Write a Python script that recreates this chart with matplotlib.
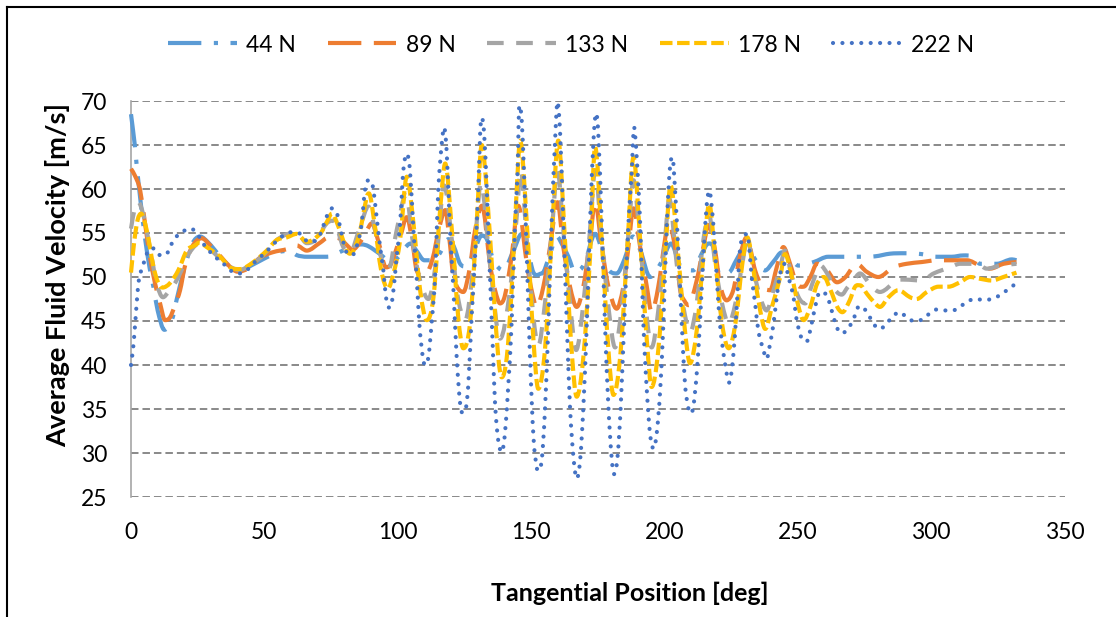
import numpy as np
import matplotlib
matplotlib.use("Agg")
import matplotlib.pyplot as plt
from matplotlib.path import Path
from matplotlib.patches import PathPatch
from matplotlib.lines import Line2D

plt.rcParams['font.family'] = ['Lato', 'DejaVu Sans']

# ---------------- data ----------------
series_names = ["44 N", "89 N", "133 N", "178 N", "222 N"]

x_44 = [0, 1.5, 2.0, 3.4, 5, 7, 8.4, 10, 12.5, 15.3, 17.1, 20.2, 23, 25.9, 29, 33, 37, 40.5,
        45, 50, 55, 60, 62, 66, 70, 73.4, 78, 83, 86.5, 89, 93.4, 97, 100, 104.8, 107, 110,
        113.5, 116, 119, 121, 123.4, 126, 128.5, 131.5, 133.4, 135.9, 139.6, 143.4, 146.5,
        148.5, 150.9, 154, 157, 159.6, 162, 164, 166.5, 170, 174, 178.4, 182.1, 185, 188.2,
        191, 194.6, 198.9, 202.5, 205.9, 210.8, 213.9, 216.5, 218.3, 220.3, 224, 227.1,
        230.5, 234, 237.7, 241, 244, 247, 250.2, 256, 261.4, 266, 273.3, 279, 284.6, 290,
        296.5, 302.1, 307.7, 312, 315.8, 318.3, 324.6, 330.3, 332]
y_44 = [68.5, 64.8, 63.1, 59.1, 55.0, 51.0, 48.9, 46.2, 44.0, 45.1, 47.4, 51.2, 53.8, 54.6,
        53.9, 52.5, 51.2, 50.7, 51.3, 52.1, 52.8, 53.0, 52.5, 52.3, 52.3, 52.3, 52.8, 53.5,
        53.7, 53.5, 52.6, 51.8, 52.2, 53.8, 53.0, 51.9, 51.9, 52.8, 54.3, 53.5, 51.5, 51.2,
        52.8, 54.7, 54.3, 51.9, 50.75, 53.0, 54.9, 53.5, 50.5, 50.4, 52.5, 54.6, 53.5, 52.3,
        50.55, 51.5, 54.9, 51.1, 50.4, 52.0, 54.6, 53.0, 50.0, 51.7, 53.8, 51.3, 50.75, 52.6,
        53.8, 53.4, 50.55, 50.5, 52.0, 53.6, 52.0, 50.75, 51.8, 52.8, 52.3, 51.3, 51.7, 52.3,
        52.3, 52.3, 52.35, 52.65, 52.7, 52.6, 52.3, 52.3, 52.45, 52.3, 51.5, 51.5, 52.0, 51.9]

x_89 = [0, 1.5, 3.4, 5.25, 7, 9, 10.9, 12.75, 14.6, 16.5, 18.4, 20.2, 23, 26.5, 30, 34, 37, 40,
        44, 48.4, 53, 58.9, 62, 65.9, 70.9, 74, 78.4, 81, 83, 86, 88.4, 90.3, 92.8, 95.6, 97.5,
        100.9, 103.4, 105.5, 107.1, 110.2, 113, 115.5, 117.8, 119.5, 120.9, 124.6, 127, 129,
        131.6, 134.6, 136.5, 138.4, 140.2, 142.7, 145.2, 148.4, 150.2, 152.1, 154.6, 157.1,
        159.9, 162.1, 164.6, 167.1, 169.6, 172.1, 174, 176.5, 179, 182.1, 184.6, 186.5, 188.4,
        190.9, 193.4, 195.2, 197.7, 200.2, 201.5, 204.6, 205.9, 207.5, 209, 212.1, 214.6, 216.5,
        219, 220.8, 223.3, 225.8, 228.3, 230.8, 234, 236.5, 239.6, 242.1, 244.6, 247.1, 249.6,
        252.2, 254.7, 257.2, 261, 264.7, 267.9, 272.1, 275.8, 280.2, 285.8, 290.8, 296.5,
        302.1, 313.4, 318.3, 322.1, 327.1, 332]
y_89 = [62.3, 61.5, 59.9, 56.1, 52.5, 49.3, 47.0, 45.1, 45.4, 46.8, 48.5, 51.2, 53.5, 54.4,
        53.5, 52.2, 51.2, 50.6, 51.0, 52.2, 52.8, 53.2, 53.6, 53.0, 53.9, 54.5, 54.35, 53.6,
        53.1, 54.0, 55.3, 56.1, 54.0, 51.1, 51.5, 54.5, 56.8, 54.0, 50.75, 50.2, 52.0, 55.5,
        57.6, 54.0, 50.0, 48.3, 51.0, 55.3, 58.1, 51.5, 48.5, 47.0, 47.9, 52.3, 58.1, 51.5,
        48.5, 46.6, 48.9, 53.4, 58.5, 53.4, 48.9, 46.6, 48.9, 54.2, 58.5, 53.4, 48.9, 46.4,
        48.9, 53.4, 57.8, 53.4, 48.9, 46.0, 48.9, 54.2, 56.25, 52.3, 48.5, 47.3, 46.8, 49.6,
        53.4, 55.9, 53.0, 49.2, 47.35, 48.5, 52.3, 54.5, 50.75, 49.0, 48.5, 51.1, 53.4, 51.5,
        49.2, 48.9, 50.0, 51.5, 50.75, 49.4, 50.0, 51.5, 50.6, 50.0, 51.1, 51.5, 51.7, 51.9,
        51.9, 51.3, 50.95, 51.5, 51.7]

x_133 = [0, 1.2, 2.75, 4.5, 7, 9.6, 12, 14, 16.5, 19, 22, 25.9, 29, 33, 37, 40.5, 45, 50, 54.6,
         60.8, 63, 65.9, 69, 73.4, 75.8, 79.6, 82.1, 85.9, 89, 92.1, 94.8, 96.5, 99.6, 103.1,
         105.9, 108.4, 111.5, 114.6, 117.4, 120.3, 122.1, 125.3, 128.3, 131.2, 134.6, 138.4,
         142.1, 144.6, 146.1, 148.4, 150.9, 152.7, 155.2, 157.7, 159.9, 162.1, 164.6, 166.9,
         169.6, 172.1, 174, 176.5, 179, 181.5, 184, 186.5, 188.4, 190.9, 193.4, 195.2, 197.7,
         200.2, 201.8, 204.6, 207.1, 209.6, 212.1, 214.6, 216.8, 219, 221.6, 224.1, 226.6,
         229.2, 231.1, 233.4, 235.9, 238.3, 240.9, 243.4, 245.2, 247.8, 250.3, 252.8, 255.4,
         258.5, 261, 264.1, 266.5, 268.6, 270.8, 273.3, 277.7, 280.8, 287.1, 290.2, 296.5,
         300.9, 307.1, 310.8, 317.1, 320.9, 325.9, 332]
y_133 = [55.5, 57.5, 58.5, 57.2, 53.5, 49.3, 47.7, 48.3, 49.3, 50.8, 52.8, 53.85, 53.3, 52.2,
         51.2, 50.8, 51.4, 52.6, 54.2, 55.0, 54.8, 53.85, 54.2, 56.1, 56.4, 53.4, 52.8, 55.7,
         58.0, 54.5, 51.0, 50.8, 55.3, 59.3, 53.4, 49.6, 47.5, 52.3, 60.4, 54.2, 48.5, 45.1,
         51.1, 60.6, 51.5, 43.0, 48.5, 56.8, 62.1, 54.2, 45.4, 42.2, 47.0, 54.9, 62.1, 55.3,
         47.0, 41.7, 47.0, 55.3, 62.1, 54.2, 46.6, 42.0, 46.6, 54.9, 61.0, 53.8, 45.4, 42.0,
         46.2, 54.2, 58.9, 51.5, 46.6, 43.75, 47.0, 54.2, 57.0, 51.5, 47.0, 44.7, 47.0, 51.5,
         54.35, 50.75, 47.7, 46.2, 48.5, 51.1, 53.0, 50.0, 47.7, 47.0, 49.2, 51.3, 50.4, 48.5,
         48.0, 48.8, 49.6, 50.4, 48.9, 48.3, 49.6, 49.7, 49.6, 50.4, 51.1, 51.5, 51.5, 50.95,
         51.3, 51.5]

x_178 = [0, 1.2, 2.5, 3.8, 5.9, 8.4, 10, 11.8, 14.6, 17.8, 20.9, 24, 25.5, 28.4, 33.4, 37.1,
         40.9, 45.9, 50.9, 54.6, 58.4, 62.1, 65.9, 70.9, 73.5, 75.3, 77.8, 80.9, 82.1, 85.3,
         88.4, 89.2, 91.3, 93.8, 96.3, 98.5, 100.9, 103.4, 105.9, 108.4, 110.9, 113.4, 116,
         117.8, 120.3, 122.7, 124.6, 127.1, 129.6, 131.5, 133.4, 135.9, 137.7, 139, 140.9,
         142.7, 144.6, 145.9, 148.4, 150.9, 152.7, 155.2, 157.7, 160.2, 162.7, 165.2, 167.1,
         169.6, 172.1, 174, 176.5, 179, 180.9, 183.4, 185.9, 188.4, 190.9, 193.4, 195.2, 197.7,
         200.2, 202.3, 205.2, 207.7, 209.6, 212.1, 214.6, 216.8, 219, 221.6, 224.1, 226.6,
         229.2, 231.1, 233.4, 235.9, 237.8, 240.3, 243.4, 245.2, 247.8, 250.3, 252.2, 254.7,
         257.2, 259.8, 262.3, 264.8, 266.7, 269.4, 271.5, 273.4, 275.9, 278.4, 280.8, 284,
         287.7, 292.1, 294.6, 298.4, 302.8, 306.5, 310.8, 314.6, 318.3, 322.7, 327.1, 332]
y_178 = [50.5, 54.0, 56.5, 57.2, 55.3, 51.2, 49.5, 48.8, 49.3, 50.8, 53.0, 53.6, 53.9, 53.4,
         52.3, 51.1, 50.9, 51.7, 53.0, 54.2, 54.5, 54.9, 54.0, 54.9, 56.3, 57.2, 55.7, 53.0,
         52.65, 54.5, 59.1, 59.5, 56.1, 50.75, 48.7, 50.5, 54.2, 61.4, 56.1, 48.5, 45.1, 47.7,
         58.0, 62.9, 55.3, 45.4, 41.9, 44.7, 56.1, 65.0, 59.8, 48.5, 40.9, 38.6, 40.9, 48.5,
         59.8, 65.5, 56.1, 42.8, 37.3, 41.7, 54.2, 65.5, 54.2, 41.7, 36.4, 40.9, 52.3, 64.8,
         54.2, 41.7, 36.6, 40.9, 52.3, 63.6, 54.2, 42.8, 37.5, 41.7, 52.3, 60.4, 52.3, 43.9,
         40.2, 43.9, 52.3, 58.3, 52.3, 44.7, 41.9, 44.7, 51.5, 54.5, 50.75, 46.2, 44.1, 46.6,
         50.0, 52.6, 50.0, 46.6, 45.1, 46.6, 49.2, 50.0, 48.5, 46.6, 46.0, 47.3, 48.9, 49.05,
         48.1, 47.2, 46.6, 47.7, 48.5, 47.7, 47.5, 48.3, 48.9, 48.9, 49.4, 50.0, 49.8, 49.6,
         50.0, 50.5]

x_222 = [0, 1.0, 2.0, 3.0, 4.2, 6.0, 8.0, 10.5, 12.8, 16, 18.5, 22.5, 25.5, 28, 30.2, 33, 35.5,
         38, 40.5, 43.5, 46, 50.5, 53, 55, 57.5, 60.5, 63.5, 66.5, 69, 71, 73.4, 75.3, 77.1,
         78.4, 79.6, 81, 83, 85.3, 86.5, 87.7, 89, 90.6, 92.1, 93.4, 94.6, 95.6, 96.9, 98.1,
         99.6, 100.9, 102.1, 103.4, 104.6, 105.9, 107.1, 108.1, 109.4, 110.2, 111.5, 112.7,
         114, 115.2, 116.5, 117.4, 118.4, 119.6, 120.9, 122.1, 123.4, 124.2, 125.5, 126.5,
         127.7, 129, 130.2, 130.9, 131.5, 132.4, 133.4, 134.6, 135.6, 136.5, 137.7, 139, 140.2,
         141.5, 142.7, 144, 144.9, 145.6, 146.5, 147.4, 148.4, 149.6, 150.9, 152.1, 152.7, 154,
         155.2, 156.5, 157.7, 159, 159.9, 160.9, 162.1, 163.4, 164.6, 165.9, 167.1, 168.4,
         169.6, 170.9, 172.1, 173.4, 174.4, 175.2, 176.5, 177.7, 179, 180.2, 181.1, 182.4,
         183.6, 184.9, 186.5, 187.7, 188.6, 189.6, 190.9, 192.1, 193.4, 194.6, 195.9, 197.1,
         198.4, 199.6, 200.9, 202.1, 203, 204, 205.2, 206.5, 207.7, 208.9, 209.8, 210.8, 212.1,
         213.3, 214.6, 215.8, 216.8, 218.3, 219.6, 220.8, 222.7, 224.3, 225.8, 227.1, 228.3,
         229.6, 231.1, 232.7, 234, 235.2, 237.1, 238.3, 239.6, 240.9, 242.1, 243.4, 245.2,
         246.5, 248.4, 249.6, 251.5, 253.4, 255.2, 256.5, 258.3, 260.9, 262.7, 264.6, 266.5,
         269, 271, 273, 275.2, 276.9, 278.3, 280.8, 283.3, 285.5, 288.1, 290.6, 293.4, 296.5,
         299, 301.8, 304.8, 308.1, 310.8, 313.4, 316.5, 319.6, 322.7, 325.6, 328.4, 331.1]
y_222 = [40.0, 42.5, 46.5, 49.8, 51.0, 52.7, 53.3, 52.5, 52.5, 54.2, 55.0, 55.5, 54.6, 53.4,
         52.7, 51.9, 51.3, 50.6, 50.4, 50.8, 51.6, 52.8, 53.6, 54.2, 54.8, 55.1, 54.9, 54.0,
         54.1, 54.9, 56.9, 57.8, 57.3, 55.7, 54.0, 52.7, 52.5, 54.2, 56.1, 59.8, 61.0, 60.4,
         56.8, 53.4, 50.8, 47.7, 46.5, 47.7, 52.3, 56.1, 62.1, 64.0, 62.1, 55.3, 50.0, 44.7,
         40.9, 40.0, 40.9, 44.7, 50.0, 59.8, 65.1, 67.0, 64.0, 55.3, 48.5, 40.9, 35.6, 34.6,
         35.0, 37.9, 45.4, 52.3, 59.8, 66.3, 68.1, 66.3, 59.8, 50.0, 42.4, 35.6, 31.4, 30.1,
         32.2, 37.9, 44.7, 56.1, 61.7, 69.5, 67.8, 61.4, 52.3, 40.9, 31.8, 28.4, 28.0, 29.2,
         34.8, 44.7, 56.1, 65.5, 69.9, 66.3, 56.1, 44.7, 35.2, 29.5, 27.1, 29.2, 35.2, 44.7,
         56.1, 65.5, 68.6, 66.3, 56.1, 44.7, 35.2, 29.5, 27.6, 29.5, 35.2, 44.7, 56.1, 61.7,
         67.0, 63.6, 56.1, 44.7, 37.1, 32.2, 30.5, 32.2, 37.1, 44.7, 56.1, 62.5, 63.6, 59.8,
         53.0, 44.7, 37.9, 35.2, 34.5, 35.2, 39.0, 44.7, 52.3, 58.0, 59.8, 56.1, 50.0, 44.7,
         40.2, 38.0, 41.0, 46.6, 53.0, 54.5, 54.9, 50.0, 47.0, 43.9, 41.7, 40.7, 42.4, 44.7,
         47.7, 50.4, 51.5, 50.0, 47.7, 45.1, 43.0, 42.7, 44.7, 46.6, 48.3, 47.9, 46.2, 44.3,
         43.6, 44.2, 45.3, 46.7, 46.3, 45.5, 44.7, 44.1, 44.7, 45.5, 46.0, 45.5, 45.0, 45.15,
         45.75, 46.3, 46.2, 46.2, 46.6, 47.2, 47.5, 47.4, 47.5, 47.9, 48.5, 49.1]

x_ticks = [0, 50, 100, 150, 200, 250, 300, 350]
y_ticks = [25, 30, 35, 40, 45, 50, 55, 60, 65, 70]

colors = ["#5B9BD5", "#ED7D31", "#A5A5A5", "#FFC000", "#4472C4"]
# dash patterns in units of line width (long dash-dot, long dash, dash, square dash, round dot)
dash_styles = [(0, (8, 3, 1, 3)), (0, (8, 3)), (0, (4, 3)), (0, (3, 1.1)), (0, (0.01, 2.25))]
cap_styles = ["butt", "butt", "butt", "butt", "round"]
LW = 3.0


def smooth_path(x, y):
    """Smoothed line through the points as cubic Bezier segments."""
    x = np.asarray(x, float)
    y = np.asarray(y, float)
    n = len(x)
    d = np.diff(y) / np.diff(x)
    m = np.zeros(n)
    m[0], m[-1] = d[0], d[-1]
    for i in range(1, n - 1):
        if d[i - 1] * d[i] > 0:
            m[i] = (y[i + 1] - y[i - 1]) / (x[i + 1] - x[i - 1])
    verts = [(x[0], y[0])]
    codes = [Path.MOVETO]
    for i in range(n - 1):
        h = x[i + 1] - x[i]
        verts += [(x[i] + h / 3, y[i] + m[i] * h / 3),
                  (x[i + 1] - h / 3, y[i + 1] - m[i + 1] * h / 3),
                  (x[i + 1], y[i + 1])]
        codes += [Path.CURVE4] * 3
    return Path(verts, codes)


W, H = 1116, 617
fig = plt.figure(figsize=(W / 100, H / 100), dpi=100)
ax = fig.add_axes([131 / W, 1 - 497 / H, (1064.5 - 131) / W, (497 - 101) / H])

ax.set_xlim(0, 350)
ax.set_ylim(25, 70)
ax.set_xticks(x_ticks)
ax.set_yticks(y_ticks)
ax.tick_params(axis='both', length=0, labelsize=16.5, colors='black')
ax.tick_params(axis='y', pad=17)
ax.tick_params(axis='x', pad=18)

ax.yaxis.grid(True, color='#808080', linewidth=1.3, linestyle=(0, (4.15, 2.2)))
ax.xaxis.grid(False)
ax.set_axisbelow(True)
for side in ['top', 'right', 'bottom']:
    ax.spines[side].set_visible(False)
ax.spines['left'].set_color('#A6A6A6')
ax.spines['left'].set_linewidth(1.2)
ax.spines['left'].set_zorder(1)

all_x = [x_44, x_89, x_133, x_178, x_222]
all_y = [y_44, y_89, y_133, y_178, y_222]
handles = []
for k, (xs, ys) in enumerate(zip(all_x, all_y)):
    patch = PathPatch(smooth_path(xs, ys), fill=False, edgecolor=colors[k], linewidth=LW,
                      linestyle=dash_styles[k], capstyle=cap_styles[k], joinstyle='round',
                      zorder=3 + k, clip_on=False)
    ax.add_patch(patch)
    handles.append(Line2D([], [], color=colors[k], linewidth=LW, linestyle=dash_styles[k],
                          dash_capstyle=cap_styles[k]))

fig.legend(handles, series_names, loc='center', bbox_to_anchor=(571 / W, 1 - 45 / H),
           ncol=5, frameon=False, fontsize=16.5, handlelength=3.0, handletextpad=0.4,
           columnspacing=1.39)

fig.text(58 / W, 1 - 275 / H, "Average Fluid Velocity [m/s]", rotation=90,
         ha='center', va='center', fontsize=19.5, fontweight='bold')
fig.text(630 / W, 1 - 593 / H, "Tangential Position [deg]", ha='center', va='center',
         fontsize=18, fontweight='bold')

# chart frame
fig.add_artist(Line2D([7 / W, 7 / W], [0, 1 - 7 / H], transform=fig.transFigure,
                      color='black', linewidth=1.5))
fig.add_artist(Line2D([7 / W, 1], [1 - 7 / H, 1 - 7 / H], transform=fig.transFigure,
                      color='black', linewidth=1.5))

fig.savefig("out.png", dpi=100)
